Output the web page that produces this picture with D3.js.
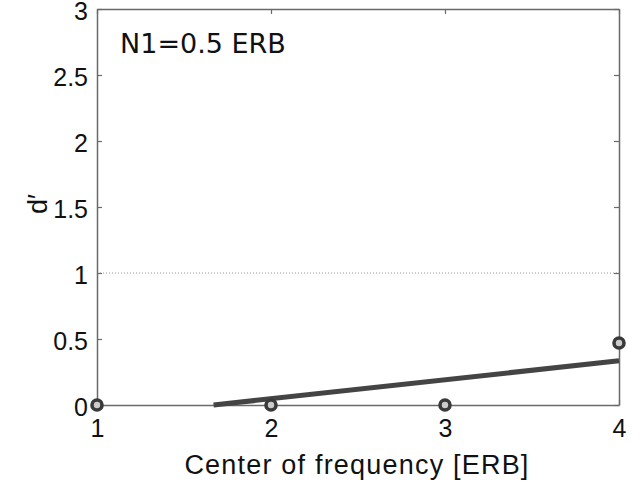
<!DOCTYPE html>
<html>
<head>
<meta charset="utf-8">
<script src="https://cdn.jsdelivr.net/npm/d3@7"></script>
<style>
  body { margin: 0; background: #fff; }
  text { font-family: "Liberation Sans", Arial, sans-serif; fill: #111; }
</style>
</head>
<body>
<div id="chart"></div>
<script>
/* data */
const xValues = [1, 2, 3, 4]
const dPrime = [0, 0, 0, 0.47]
const fitX = [1.67, 4]
const fitY = [0, 0.335]
const xTicks = [1, 2, 3, 4]
const yTicks = [0, 0.5, 1, 1.5, 2, 2.5, 3]
const threshold = 1

const WIDTH = 642
const HEIGHT = 484
const M = {"LEFT": 97, "RIGHT": 23, "TOP": 9, "BOTTOM": 79}
const AXIS_COLOR = "#6a6a6a"

const svg = d3.select("#chart")
              .append("svg")
              .attr("width", WIDTH)
              .attr("height", HEIGHT);

const x = d3.scaleLinear().domain([1, 4]).range([M.LEFT, WIDTH - M.RIGHT]);
const y = d3.scaleLinear().domain([0, 3]).range([HEIGHT - M.BOTTOM, M.TOP]);

/* dotted reference line */
svg.append("line")
   .attr("x1", x(1)).attr("x2", x(4))
   .attr("y1", y(threshold)).attr("y2", y(threshold))
   .attr("stroke", "#999")
   .attr("stroke-width", 1)
   .attr("stroke-dasharray", "1,2");

/* axes: inward ticks, box */
const fmt = (d) => String(d)
const axBottom = svg.append("g")
   .attr("transform", "translate(0," + y(0) + ")")
   .call(d3.axisBottom(x).tickValues(xTicks).tickSizeInner(-5).tickSizeOuter(0).tickPadding(14).tickFormat(fmt));
const axTop = svg.append("g")
   .attr("transform", "translate(0," + y(3) + ")")
   .call(d3.axisTop(x).tickValues(xTicks).tickSizeInner(-5).tickSizeOuter(0).tickFormat(""));
const axLeft = svg.append("g")
   .attr("transform", "translate(" + x(1) + ",0)")
   .call(d3.axisLeft(y).tickValues(yTicks).tickSizeInner(-5).tickSizeOuter(0).tickPadding(9).tickFormat(fmt));
const axRight = svg.append("g")
   .attr("transform", "translate(" + x(4) + ",0)")
   .call(d3.axisRight(y).tickValues(yTicks).tickSizeInner(-5).tickSizeOuter(0).tickFormat(""));

[axBottom, axTop, axLeft, axRight].forEach((g) => {
  g.select(".domain").attr("stroke", AXIS_COLOR).attr("stroke-width", 1.5);
  g.selectAll(".tick line").attr("stroke", AXIS_COLOR).attr("stroke-width", 1.2);
  g.selectAll(".tick text").style("font-size", "25px").attr("fill", "#111");
});
axLeft.selectAll(".tick text").attr("dy", "0.4em");

/* fitted line */
svg.append("path")
   .datum(fitX.map((d, i) => [d, fitY[i]]))
   .attr("fill", "none")
   .attr("stroke", "#444")
   .attr("stroke-width", 5)
   .attr("d", d3.line().x((d) => x(d[0])).y((d) => y(d[1])));

/* data points */
svg.append("g")
   .selectAll("circle")
   .data(xValues.map((d, i) => [d, dPrime[i]]))
   .enter()
   .append("circle")
   .attr("cx", (d) => x(d[0]))
   .attr("cy", (d) => y(d[1]))
   .attr("r", 5)
   .attr("fill", "#ccc")
   .attr("stroke", "#3a3a3a")
   .attr("stroke-width", 3.6);

/* labels */
svg.append("text")
   .attr("x", 120).attr("y", 53)
   .style("font-family", "'DejaVu Sans', sans-serif")
   .style("font-size", "27px")
   .text("N1=0.5 ERB");

svg.append("text")
   .attr("x", 357).attr("y", 474)
   .attr("text-anchor", "middle")
   .style("font-size", "27px")
   .style("letter-spacing", "1.2px")
   .text("Center of frequency [ERB]");

svg.append("text")
   .attr("transform", "translate(47,204) rotate(-90)")
   .attr("text-anchor", "middle")
   .style("font-size", "27px")
   .text("d\u2032");
</script>
</body>
</html>
